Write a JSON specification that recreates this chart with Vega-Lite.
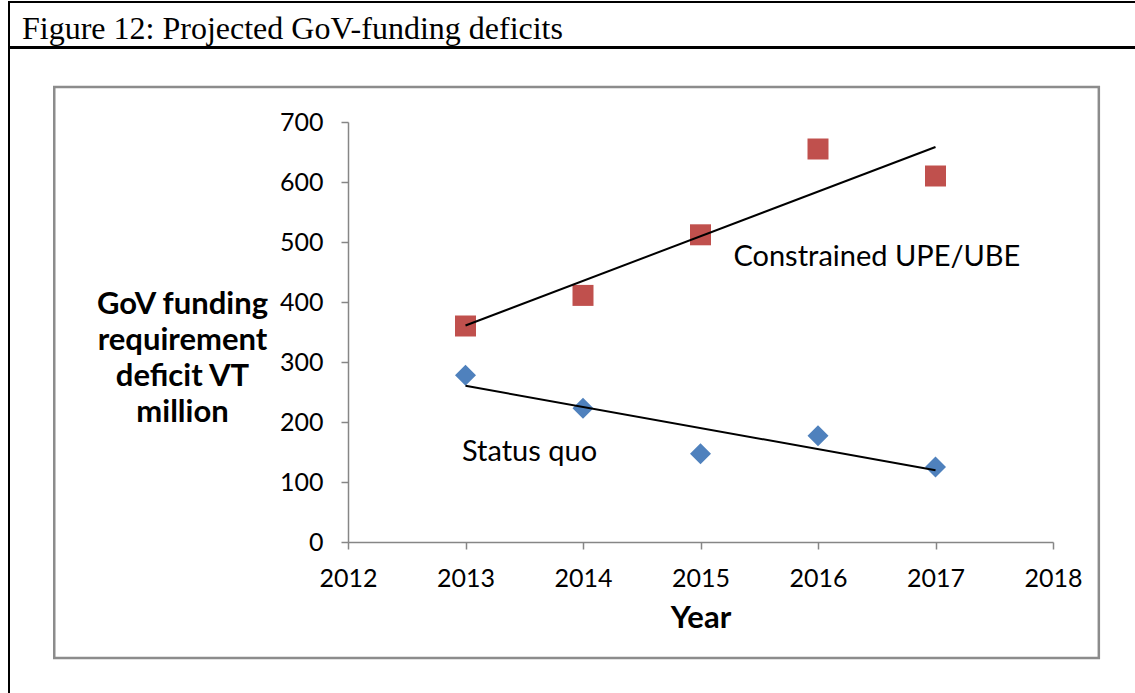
{
  "$schema": "https://vega.github.io/schema/vega-lite/v6.json",
  "padding": {"left": 8, "top": 1, "right": 0, "bottom": 0},
  "background": "white",
  "spacing": -3,
  "config": {"view": {"stroke": "black", "strokeWidth": 2}},
  "vconcat": [
    {
      "width": 1130,
      "height": 45,
      "data": {"values": [{"caption": "Figure 12: Projected GoV-funding deficits"}]},
      "mark": {"type": "text", "align": "left", "baseline": "alphabetic", "dx": 13, "dy": -8, "font": "Liberation Serif", "fontSize": 32, "color": "black"},
      "encoding": {
        "x": {"datum": 0, "type": "quantitative", "scale": {"domain": [0, 1]}, "axis": null},
        "y": {"datum": 0, "type": "quantitative", "scale": {"domain": [0, 1]}, "axis": null},
        "text": {"field": "caption", "type": "nominal"}
      }
    },
    {
      "width": 1130,
      "height": 652,
      "data": {"values": [
        {"series": "Constrained UPE/UBE", "year": 2013, "value": 360},
        {"series": "Constrained UPE/UBE", "year": 2014, "value": 411},
        {"series": "Constrained UPE/UBE", "year": 2015, "value": 512},
        {"series": "Constrained UPE/UBE", "year": 2016, "value": 655},
        {"series": "Constrained UPE/UBE", "year": 2017, "value": 610},
        {"series": "Status quo", "year": 2013, "value": 278},
        {"series": "Status quo", "year": 2014, "value": 223},
        {"series": "Status quo", "year": 2015, "value": 147},
        {"series": "Status quo", "year": 2016, "value": 177},
        {"series": "Status quo", "year": 2017, "value": 125}
      ]},
      "layer": [
        {
          "data": {"values": [{"box": "chart area"}]},
          "mark": {"type": "rect", "fill": "transparent", "stroke": "#8c8c8c", "strokeWidth": 2.5},
          "encoding": {
            "x": {"datum": 2009.5, "type": "quantitative", "scale": {"domain": [2012, 2018], "range": [339, 1044], "nice": false, "zero": false}},
            "x2": {"datum": 2018.39},
            "y": {"datum": 758.3, "type": "quantitative", "scale": {"domain": [0, 700], "range": [494, 74], "nice": false, "zero": false}},
            "y2": {"datum": -193.3}
          }
        },
        {
          "mark": {"type": "point", "filled": true, "opacity": 1, "size": 441, "strokeWidth": 0},
          "encoding": {
            "x": {"field": "year", "type": "quantitative", "scale": {"domain": [2012, 2018], "range": [339, 1044], "nice": false, "zero": false},
              "axis": {"values": [2012, 2013, 2014, 2015, 2016, 2017, 2018], "format": "d", "offset": -158, "grid": false,
                "domainColor": "#868686", "domainWidth": 1.5, "tickColor": "#868686", "tickWidth": 1.5, "tickSize": 7,
                "labelFont": "Lato", "labelFontSize": 25, "labelColor": "black", "labelPadding": 17, "labelFlush": false, "labelOverlap": false,
                "title": "Year", "titleFont": "Lato", "titleFontSize": 31, "titleFontWeight": "bold", "titleColor": "black", "titleY": 76, "titleBaseline": "middle"}},
            "y": {"field": "value", "type": "quantitative", "scale": {"domain": [0, 700], "range": [494, 74], "nice": false, "zero": false},
              "axis": {"values": [0, 100, 200, 300, 400, 500, 600, 700], "offset": -339, "grid": false,
                "domainColor": "#868686", "domainWidth": 1.5, "tickColor": "#868686", "tickWidth": 1.5, "tickSize": 7,
                "labelFont": "Lato", "labelFontSize": 25, "labelColor": "black", "labelPadding": 18, "labelOverlap": false,
                "title": ["GoV funding", "requirement", "deficit VT", "million"], "titleFont": "Lato", "titleFontSize": 31, "titleFontWeight": "bold", "titleColor": "black",
                "titleAngle": 0, "titleAlign": "center", "titleBaseline": "middle", "titleX": -166, "titleY": 256, "titleLineHeight": 36}},
            "color": {"field": "series", "type": "nominal", "scale": {"domain": ["Constrained UPE/UBE", "Status quo"], "range": ["#C0504D", "#4F81BD"]}, "legend": null},
            "shape": {"field": "series", "type": "nominal", "scale": {"domain": ["Constrained UPE/UBE", "Status quo"], "range": ["square", "diamond"]}, "legend": null}
          }
        },
        {
          "transform": [{"regression": "value", "on": "year", "groupby": ["series"]}],
          "mark": {"type": "line", "color": "black", "strokeWidth": 2},
          "encoding": {
            "x": {"field": "year", "type": "quantitative", "scale": {"domain": [2012, 2018], "range": [339, 1044], "nice": false, "zero": false}},
            "y": {"field": "value", "type": "quantitative", "scale": {"domain": [0, 700], "range": [494, 74], "nice": false, "zero": false}},
            "detail": {"field": "series", "type": "nominal"}
          }
        },
        {
          "data": {"values": [
            {"label": "Constrained UPE/UBE", "year": 2015.28, "value": 460},
            {"label": "Status quo", "year": 2012.97, "value": 135}
          ]},
          "mark": {"type": "text", "align": "left", "baseline": "alphabetic", "font": "Lato", "fontSize": 29, "color": "black"},
          "encoding": {
            "x": {"field": "year", "type": "quantitative", "scale": {"domain": [2012, 2018], "range": [339, 1044], "nice": false, "zero": false}},
            "y": {"field": "value", "type": "quantitative", "scale": {"domain": [0, 700], "range": [494, 74], "nice": false, "zero": false}},
            "text": {"field": "label", "type": "nominal"}
          }
        }
      ]
    }
  ]
}
